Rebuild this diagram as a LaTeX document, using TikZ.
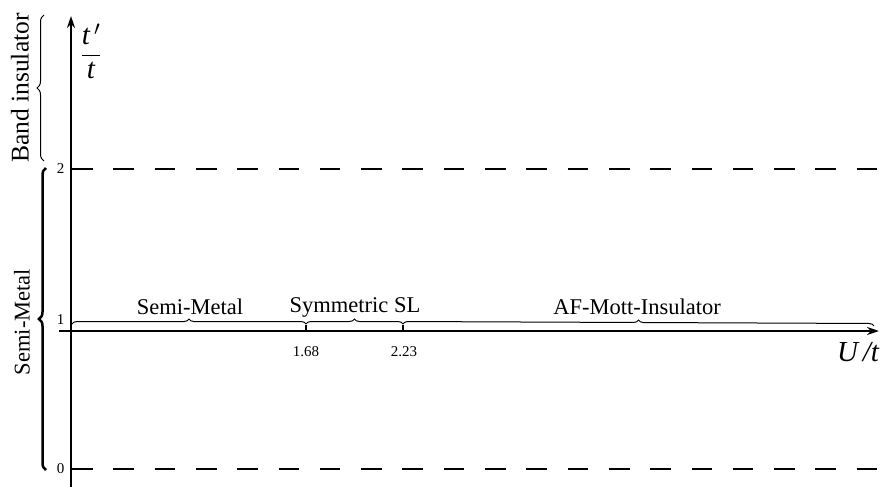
\documentclass[tikz,border=0pt]{standalone}
\usepackage{fontspec}
\setmainfont{Liberation Serif}
\usetikzlibrary{decorations.pathreplacing,arrows.meta}
\begin{document}
\begin{tikzpicture}[x=1pt,y=-1pt,
  axis/.style={line width=2.6pt,-{Stealth[length=12pt,width=8pt]}},
  dashline/.style={line width=2.6pt,dash pattern=on 20.6pt off 20.7pt},
  hbrace/.style={decorate,decoration={brace,amplitude=5pt},line width=1pt},
  vbrace/.style={decorate,decoration={brace,amplitude=7pt},line width=1pt},
  phase/.style={font=\fontsize{22.5}{26}\selectfont},
  tick/.style={font=\fontsize{15}{18}\selectfont},
  axlabel/.style={font=\fontsize{29}{34}\selectfont}]
\useasboundingbox (0,0) rectangle (881,487);
% coordinates
\coordinate (yb) at (71,487);
\coordinate (yt) at (71,16);
\coordinate (xl) at (59,331);
\coordinate (xr) at (879,331);
\coordinate (d2l) at (72,169);
\coordinate (d2r) at (881,169);
\coordinate (d0l) at (72,469);
\coordinate (d0r) at (881,469);
\coordinate (o) at (72,324);
\coordinate (a) at (306,324);
\coordinate (b) at (403,324);
\coordinate (e) at (874,326);
\coordinate (bt) at (44,15);
\coordinate (bb) at (44,161);
\coordinate (st) at (46,168);
\coordinate (sb) at (46,470);
% dashed lines
\draw[dashline] (d2l) -- (d2r);
\draw[dashline] (d0l) -- (d0r);
% axes
\draw[axis] (yb) -- (yt);
\draw[axis] (xl) -- (xr);
% ticks
\draw[line width=1.2pt] (306,325) -- (306,331);
\draw[line width=1.2pt] (403,325) -- (403,331);
\node[tick] (t168) at (306,352) {1.68};
\node[tick] (t223) at (404,352) {2.23};
\node[tick,anchor=east] (l2) at (68,169) {2};
\node[tick,anchor=east] (l1) at (68,320) {1};
\node[tick,anchor=east] (l0) at (68,469) {0};
% horizontal braces
\draw[hbrace] (o) -- (a);
\draw[hbrace] (a) -- (b);
\draw[hbrace] (b) -- (e);
\node[phase] (sm) at (190,307) {Semi-Metal};
\node[phase] (ssl) at (355,307) {Symmetric SL};
\node[phase] (af) at (637,307) {AF-Mott-Insulator};
% vertical braces
\draw[vbrace] (bb) -- (bt);
\draw[decorate,decoration={brace,amplitude=7pt},line width=2.5pt] (sb) -- (st);
\node[font=\fontsize{25.5}{30}\selectfont,rotate=90] (bi) at (20,88) {Band insulator};
\node[phase,rotate=90] (svm) at (22,322) {Semi-Metal};
% axis labels
\node[axlabel] (tt) at (91,51) {$\displaystyle\frac{\mbox{\itshape t}\,'}{\mbox{\itshape t}}$};
\node[axlabel] (ut) at (858,352) {\itshape U\,/t};
\end{tikzpicture}
\end{document}
